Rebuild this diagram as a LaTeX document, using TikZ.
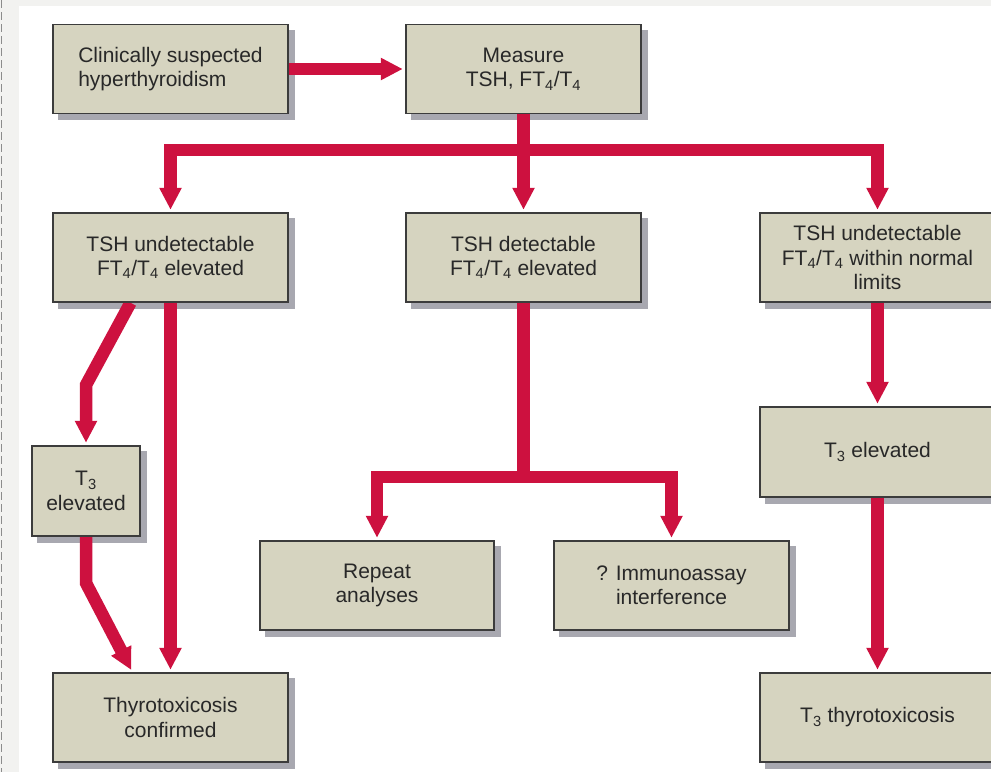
\documentclass[tikz,border=0pt]{standalone}
\usepackage{fontspec}
\setmainfont{Liberation Sans}
\usetikzlibrary{arrows.meta}
\definecolor{redarr}{RGB}{205,17,63}
\definecolor{boxfill}{RGB}{214,212,192}
\definecolor{boxline}{RGB}{60,60,60}
\definecolor{shadowc}{RGB}{168,168,176}
\definecolor{txt}{RGB}{40,40,40}
\definecolor{stripc}{RGB}{242,242,240}
\definecolor{dashc}{RGB}{140,140,140}
\pgfdeclarelayer{bglayer}
\pgfdeclarelayer{shadowlayer}
\pgfdeclarelayer{arrowlayer}
\pgfsetlayers{bglayer,shadowlayer,arrowlayer,main}
\begin{document}
\begin{tikzpicture}[x=1pt,y=-1pt,
  box/.style={draw=boxline, line width=1.5pt, fill=boxfill, text=txt,
    minimum width=235pt, minimum height=89pt, inner sep=0pt, align=center,
    font=\fontsize{21pt}{24.5pt}\selectfont},
  arr/.style={draw=redarr, line width=12.5pt, line join=miter,
    -{Triangle[length=22pt,width=21pt]}, shorten >=2.5pt},
  plainline/.style={draw=redarr, line width=12.5pt, line join=miter},
  shadowbox/.style={fill=shadowc}]
\useasboundingbox (0,0) rectangle (991,772);

% nodes
\node[box, align=left] (clin) at (170.5,69) {Clinically suspected\\hyperthyroidism};
\node[box] (meas) at (523.5,69) {Measure\\TSH, FT\textsubscript{4}/T\textsubscript{4}};
\node[box] (tshU) at (170.5,257.5) {TSH undetectable\\FT\textsubscript{4}/T\textsubscript{4} elevated};
\node[box] (tshD) at (523.5,257.5) {TSH detectable\\FT\textsubscript{4}/T\textsubscript{4} elevated};
\node[box] (tshN) at (877.5,257.5) {TSH undetectable\\FT\textsubscript{4}/T\textsubscript{4} within normal\\limits};
\node[box, minimum width=108pt, minimum height=90pt] (t3s) at (86,491) {T\textsubscript{3}\\elevated};
\node[box, minimum width=234pt] (rep) at (377,585.5) {Repeat\\analyses};
\node[box] (imm) at (671.5,585.5) {? Immunoassay\\interference};
\node[box, minimum height=90pt] (t3r) at (877.5,452) {T\textsubscript{3} elevated};
\node[box] (conf) at (170.5,717.5) {Thyrotoxicosis\\confirmed};
\node[box] (t3t) at (877.5,717.5) {T\textsubscript{3} thyrotoxicosis};

% junction and bend points
\coordinate (j1) at (523.5,150);
\coordinate (j2) at (523.5,477);
\coordinate (c1) at (86,385);
\coordinate (c2) at (86,583);

% background
\begin{pgfonlayer}{bglayer}
  \fill[stripc] (0,0) rectangle (991,772);
  \fill[white] (19,6) rectangle (991,772);
  \draw[dashc, line width=0.8pt, dash pattern=on 8pt off 4pt] (1.5,0) -- (1.5,772);
\end{pgfonlayer}

% shadows
\begin{pgfonlayer}{shadowlayer}
  \foreach \n in {clin,meas,tshU,tshD,tshN,t3s,rep,imm,t3r,conf,t3t}
    \fill[shadowbox] ([shift={(6pt,-6pt)}]\n.south west) rectangle ([shift={(6pt,-6pt)}]\n.north east);
\end{pgfonlayer}

% connectors
\begin{pgfonlayer}{arrowlayer}
  \draw[arr] (clin.east) -- (meas.west);
  \draw[plainline] (meas.south) -- (j1);
  \draw[arr] (j1) -| (tshU.north);
  \draw[arr] (j1) -| (tshN.north);
  \draw[arr] (j1) -- (tshD.north);
  \draw[arr] ([xshift=-40pt]tshU.south) -- (c1) -- (t3s.north);
  \draw[arr] (tshU.south) -- (conf.north);
  \draw[arr] (t3s.south) -- (c2) -- ([xshift=-38pt]conf.north);
  \draw[plainline] (tshD.south) -- (j2);
  \draw[arr] (j2) -| (rep.north);
  \draw[arr] (j2) -| (imm.north);
  \draw[arr] (tshN.south) -- (t3r.north);
  \draw[arr] (t3r.south) -- (t3t.north);
\end{pgfonlayer}
\end{tikzpicture}
\end{document}
